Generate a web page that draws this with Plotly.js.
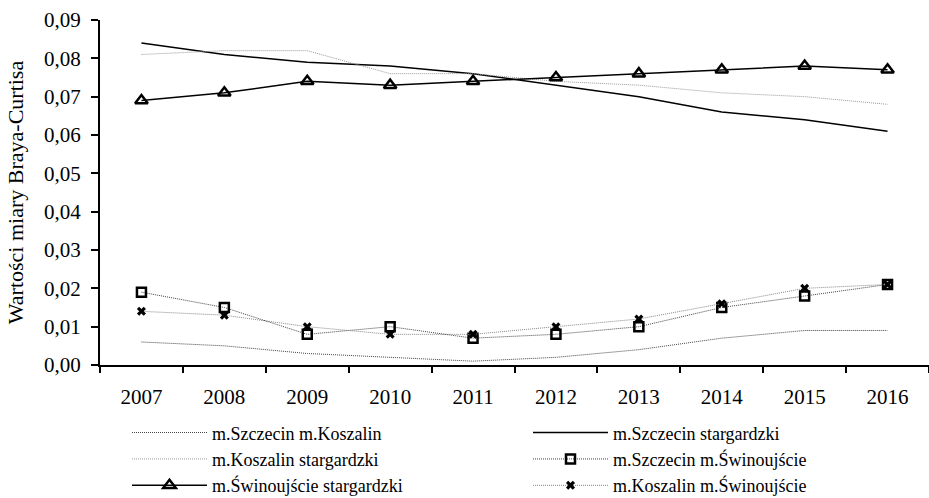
<!DOCTYPE html>
<html>
<head>
<meta charset="utf-8">
<script src="https://cdn.plot.ly/plotly-3.0.1.min.js"></script>
<style>html,body{margin:0;padding:0;background:#fff;}#chart{width:929px;height:498px;}</style>
</head>
<body>
<div id="chart"></div>
<script>
const years = ['2007','2008','2009','2010','2011','2012','2013','2014','2015','2016'];
const names = ['m.Szczecin m.Koszalin','m.Szczecin stargardzki','m.Koszalin stargardzki','m.Szczecin m.Świnoujście','m.Świnoujście stargardzki','m.Koszalin m.Świnoujście'];
const szczecinKoszalin   = [0.006,0.005,0.003,0.002,0.001,0.002,0.004,0.007,0.009,0.009];
const szczecinStargard   = [0.084,0.081,0.079,0.078,0.076,0.073,0.070,0.066,0.064,0.061];
const koszalinStargard   = [0.081,0.082,0.082,0.076,0.076,0.074,0.073,0.071,0.070,0.068];
const szczecinSwinoujscie= [0.019,0.015,0.008,0.010,0.007,0.008,0.010,0.015,0.018,0.021];
const swinoujscieStargard= [0.069,0.071,0.074,0.073,0.074,0.075,0.076,0.077,0.078,0.077];
const koszalinSwinoujscie= [0.014,0.013,0.010,0.008,0.008,0.010,0.012,0.016,0.020,0.021];
const yTicks = [0,0.01,0.02,0.03,0.04,0.05,0.06,0.07,0.08,0.09];
const yTickText = ['0,00','0,01','0,02','0,03','0,04','0,05','0,06','0,07','0,08','0,09'];

const FONT = '"Liberation Serif", "Times New Roman", Times, serif';
const traces = [
  {y: szczecinKoszalin, name: names[0], mode:'lines', line:{color:'#444', width:1, dash:'1px,1px'}},
  {y: szczecinStargard, name: names[1], mode:'lines', line:{color:'#000', width:1.5}},
  {y: koszalinStargard, name: names[2], mode:'lines', line:{color:'#999', width:1, dash:'1px,1px'}},
  {y: szczecinSwinoujscie, name: names[3], mode:'lines+markers', line:{color:'#444', width:1, dash:'1px,1px'},
     marker:{symbol:'square-open', size:9, color:'#000', line:{width:2.5, color:'#000'}}},
  {y: swinoujscieStargard, name: names[4], mode:'lines+markers', line:{color:'#000', width:1.5},
     marker:{symbol:'triangle-up-open', size:11, color:'#000', line:{width:2.5, color:'#000'}}},
  {y: koszalinSwinoujscie, name: names[5], mode:'lines+markers', line:{color:'#888', width:1, dash:'1px,1px'},
     marker:{symbol:'x', size:8, color:'#000', line:{width:0}}}
].map(t => Object.assign({x: years, type:'scatter', cliponaxis:false}, t));

const layout = {
  width: 929, height: 498,
  margin: {l:100, r:0, t:20, b:133},
  paper_bgcolor:'#fff', plot_bgcolor:'#fff',
  font: {family: FONT, size: 21, color:'#000'},
  showlegend: true,
  legend: {orientation:'h', xref:'paper', x:0.0326, xanchor:'left', yref:'container', y:0.168, yanchor:'top',
           entrywidth:311, entrywidthmode:'pixels', itemwidth:75,
           font:{family:FONT, size:18, color:'#000'}, bgcolor:'rgba(0,0,0,0)', traceorder:'normal'},
  xaxis: {type:'category', range:[-0.5,9.5], tickson:'boundaries', ticks:'outside', ticklen:6, tickwidth:2,
          tickcolor:'#000', showline:true, linecolor:'#000', linewidth:2, showgrid:false, zeroline:false,
          ticklabelstandoff:12,
          tickfont:{family:FONT, size:21, color:'#000'}, fixedrange:true},
  yaxis: {range:[0,0.09], tickvals:yTicks, ticktext:yTickText, ticks:'outside', ticklen:7, tickwidth:2,
          tickcolor:'#000', showline:true, linecolor:'#000', linewidth:2, showgrid:false, zeroline:false,
          ticklabelstandoff:6,
          tickfont:{family:FONT, size:21, color:'#000'},
          title:{text:'Wartości miary Braya-Curtisa', font:{family:FONT, size:22, color:'#000'}, standoff:14}}
};
Plotly.newPlot('chart', traces, layout, {displayModeBar:false, staticPlot:true});
</script>
</body>
</html>
